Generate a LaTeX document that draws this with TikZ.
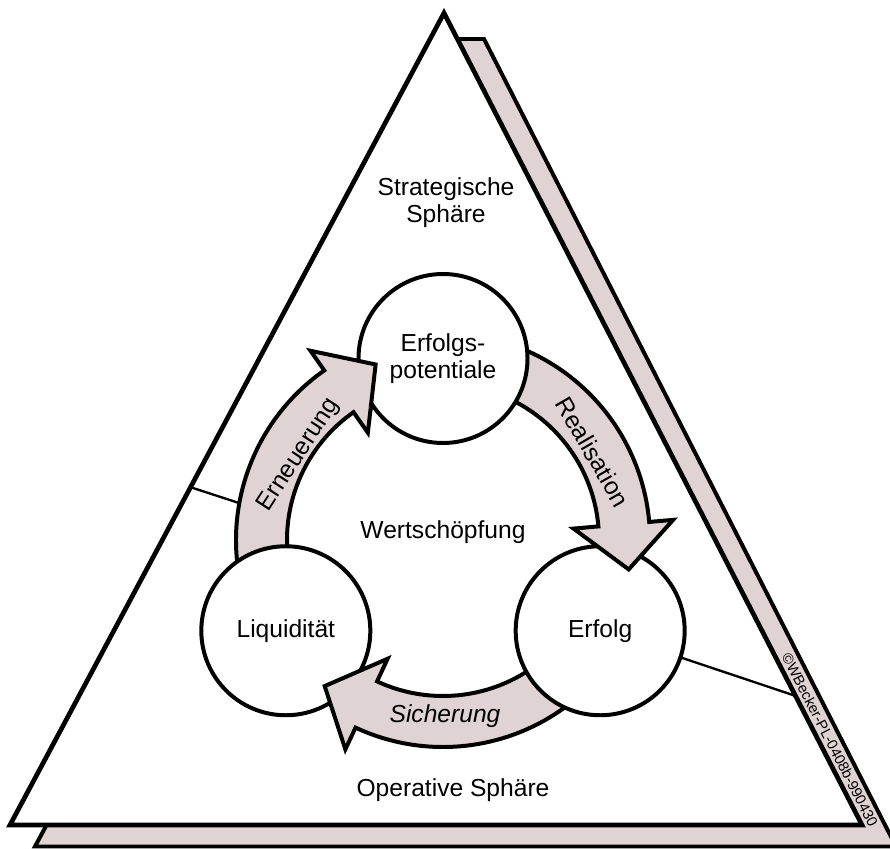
\documentclass[tikz,border=0pt]{standalone}
\usepackage{fontspec}
\setmainfont{Liberation Sans}
\usetikzlibrary{calc}
\usepackage{xcolor}
\definecolor{wbrose}{HTML}{DFD3D3}

\begin{document}
\begin{tikzpicture}[
    x=0.03cm, y=-0.03cm,
    mainframe/.style={
        draw=black,
        line width=4pt,
        line join=miter,
        fill=white
    },
    shadowband/.style={
        draw=black,
        line width=3.4pt,
        line join=miter,
        fill=wbrose
    },
    stagecircle/.style={
        circle,
        draw=black,
        line width=3.4pt,
        fill=white,
        minimum size=5.07cm,
        inner sep=0pt,
        align=center,
        font=\fontsize{21}{22.5}\selectfont
    },
    flowarrow/.style={
        draw=black,
        line width=3.4pt,
        line join=miter,
        fill=wbrose
    },
    sphereline/.style={
        line width=2pt
    },
    stagetext/.style={
        align=center,
        inner sep=0pt,
        font=\fontsize{21}{22.5}\selectfont
    }
]
\useasboundingbox (0,0) rectangle (890,849);

% Corners
\coordinate (top) at (444,13);
\coordinate (left) at (10,825);
\coordinate (right) at (862,825);
\coordinate (hub) at (443,540);

% Shadow
\draw[shadowband] (445,39) -- (484,39) -- (896,846.5) -- (35,846.5) -- (60,800) -- cycle;

% Triangle
\draw[mainframe] (top) -- (right) -- (left) -- cycle;

% Copyright
\node[font=\fontsize{12.5}{13}\selectfont, rotate=-62.8, inner sep=0pt] (copy) at (830,740) {©WBecker-PL-0408b-990430};

% Sphere boundary
\coordinate (west) at ($(top)!0.584!(left)$);
\coordinate (westend) at (262,510.5);
\coordinate (east) at ($(top)!0.841!(right)$);
\coordinate (eastend) at (645,645.5);
\draw[sphereline] (west) -- (westend);
\draw[sphereline] (eastend) -- (east);

% Arrows
\foreach \s/\e in {165/235, 285/355, 45/115}
  \draw[flowarrow, shift={(hub)}] (\s:156) arc[start angle=\s, end angle=\e, radius=156]
    -- (\e:131) -- ({\e+14}:188) -- (\e:231) -- (\e:207)
    arc[start angle=\e, end angle=\s, radius=207] -- cycle;

% Stages
\node[stagecircle] (potential) at ($(hub)+(270:181.5)$) {Erfolgs-\\potentiale};
\node[stagecircle] (success) at ($(hub)+(30:181.5)$) {Erfolg};
\node[stagecircle] (liquidity) at ($(hub)+(150:181.5)$) {Liquidität};

% Arrow heads over the stages
\foreach \s/\e/\c in {165/235/potential, 285/355/success, 45/115/liquidity} {
  \begin{scope}
    \clip (\c.center) circle[radius=88];
    \draw[flowarrow, shift={(hub)}] (\s:156) arc[start angle=\s, end angle=\e, radius=156]
      -- (\e:131) -- ({\e+14}:188) -- (\e:231) -- (\e:207)
      arc[start angle=\e, end angle=\s, radius=207] -- cycle;
  \end{scope}
}

% Arrow labels
\node[stagetext, rotate=57] (renewal) at (299,455) {Erneuerung};
\node[stagetext, rotate=-60] (realization) at (593,452) {Realisation};
\node[stagetext, font=\fontsize{21}{22.5}\selectfont\itshape] (security) at (445,716) {Sicherung};

% Spheres
\node[stagetext] (strategic) at (446,202.8) {Strategische\\Sphäre};
\node[stagetext] (value) at (443,532) {Wertschöpfung};
\node[stagetext] (operative) at (453,790) {Operative Sphäre};

\end{tikzpicture}
\end{document}
